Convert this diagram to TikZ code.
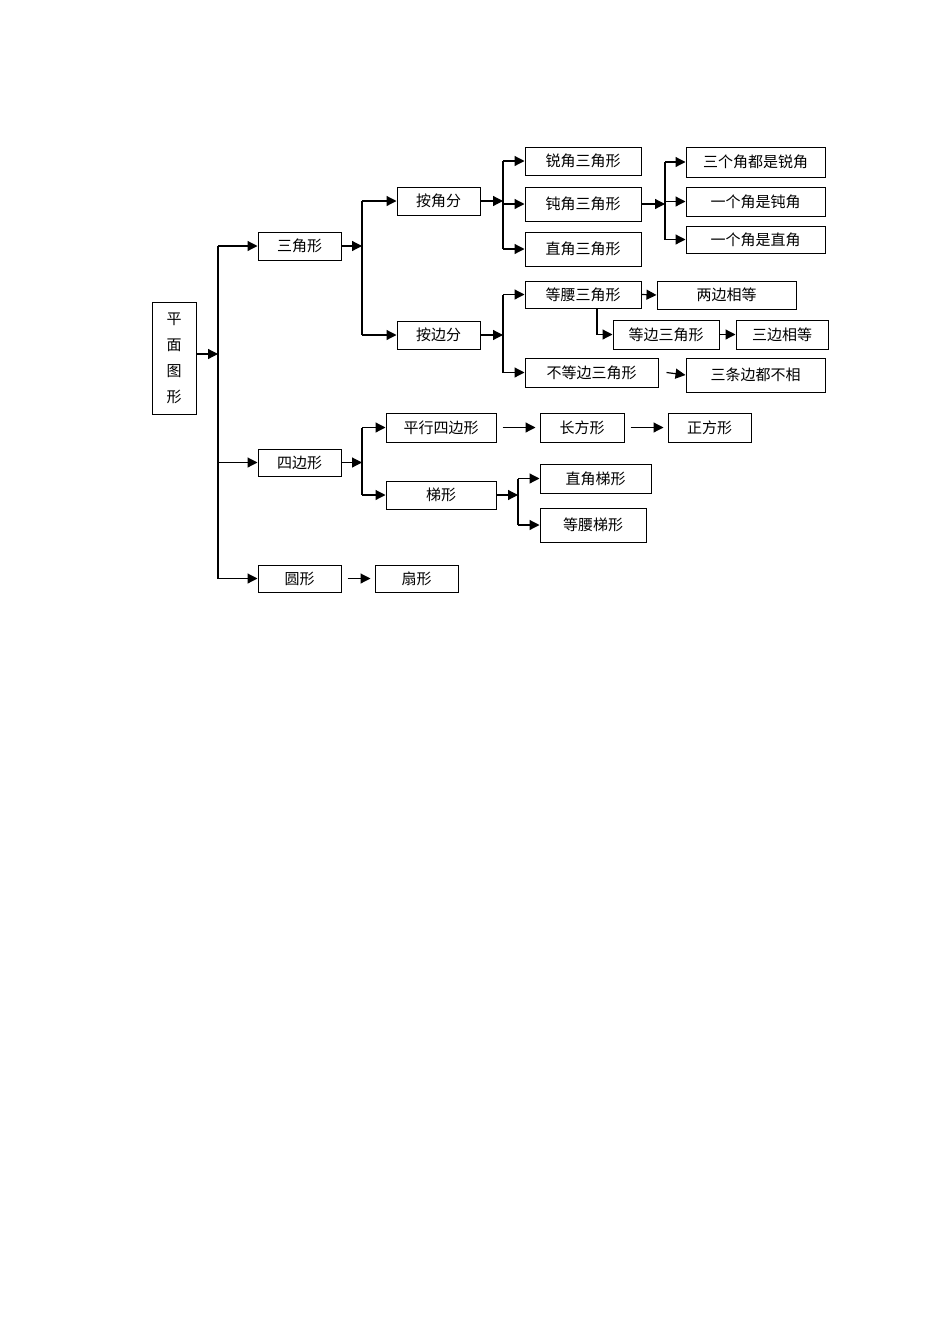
\documentclass[tikz,border=0pt]{standalone}
\usepackage{fontspec}
\newfontfamily\cjk{Noto Sans CJK SC}
\usetikzlibrary{arrows.meta}
\newcommand\bx[6]{\node[bx,minimum width={(#4-#2)*1pt},minimum height={(#5-#3)*1pt}] (#1) at ({(#2+#4)/2},{(#3+#5)/2}) {#6};}
\begin{document}
\begin{tikzpicture}[x=1pt,y=-1pt,
  bx/.style={draw,line width=1pt,inner sep=0pt,font=\cjk\fontsize{15}{17}\selectfont},
  ln/.style={line width=1.2pt},
  arr/.style={line width=1.2pt,-{Triangle[length=10pt,width=10pt]}}]
\useasboundingbox (0,0) rectangle (950,1344);
\fill[white] (0,0) rectangle (950,1344);
\node[draw,line width=1pt,minimum width=44pt,minimum height=112pt,inner sep=0pt,align=center,font=\cjk\fontsize{15}{26}\selectfont] (pm) at (174,358) {平\\面\\图\\形};
\bx{sj}{258}{232}{341}{260}{三角形}
\bx{sb}{258}{449}{341}{476}{四边形}
\bx{yx}{258}{565}{341}{592}{圆形}
\bx{sx}{375}{565}{458}{592}{扇形}
\bx{ajf}{397}{187}{480}{215}{按角分}
\bx{abf}{397}{321}{480}{349}{按边分}
\bx{rj}{525}{147}{641}{175}{锐角三角形}
\bx{dj}{525}{187}{641}{221}{钝角三角形}
\bx{zj}{525}{232}{641}{266}{直角三角形}
\bx{r1}{686}{147}{825}{177}{三个角都是锐角}
\bx{r2}{686}{187}{825}{216}{一个角是钝角}
\bx{r3}{686}{226}{825}{253}{一个角是直角}
\bx{dy}{525}{281}{641}{308}{等腰三角形}
\bx{lb}{657}{281}{796}{309}{两边相等}
\bx{db}{613}{320}{719}{349}{等边三角形}
\bx{sbx}{736}{320}{828}{349}{三边相等}
\bx{bd}{525}{358}{658}{387}{不等边三角形}
\bx{st}{686}{358}{825}{392}{三条边都不相}
\bx{px}{386}{413}{496}{442}{平行四边形}
\bx{cf}{540}{413}{624}{442}{长方形}
\bx{zf}{668}{413}{751}{442}{正方形}
\bx{tx}{386}{481}{496}{509}{梯形}
\bx{zt}{540}{464}{651}{493}{直角梯形}
\bx{dt}{540}{508}{646}{542}{等腰梯形}
\coordinate (b1) at (218,0);
\coordinate (b2) at (362,0);
\coordinate (b3) at (503,0);
\coordinate (b4) at (665,0);
\coordinate (b5) at (518,0);
\coordinate (b6) at (597,0);
% level 1
\draw[arr] (pm.east |- 0,354) -- (b1 |- 0,354);
\draw[ln] (b1 |- sj.west) -- (b1 |- yx.west);
\foreach \t in {sj,sb,yx} \draw[arr] (b1 |- \t.west) -- (\t.west);
% triangle
\draw[arr] (sj.east) -- (sj.east -| b2);
\draw[ln] (b2 |- ajf.west) -- (b2 |- abf.west);
\foreach \t in {ajf,abf} \draw[arr] (b2 |- \t.west) -- (\t.west);
\draw[arr] (ajf.east) -- (ajf.east -| b3);
\draw[ln] (b3 |- rj.west) -- (b3 |- zj.west);
\foreach \t in {rj,dj,zj} \draw[arr] (b3 |- \t.west) -- (\t.west);
\draw[arr] (dj.east) -- (dj.east -| b4);
\draw[ln] (b4 |- r1.west) -- (b4 |- r3.west);
\foreach \t in {r1,r2,r3} \draw[arr] (b4 |- \t.west) -- (\t.west);
\draw[arr] (abf.east) -- (abf.east -| b3);
\draw[ln] (b3 |- dy.west) -- (b3 |- bd.west);
\foreach \t in {dy,bd} \draw[arr] (b3 |- \t.west) -- (\t.west);
\draw[arr] (dy.east) -- (lb.west);
\draw[arr] (dy.south -| b6) |- (db.west);
\draw[arr] (db.east) -- (sbx.west);
\draw[arr] ([xshift=8pt]bd.east) -- (st.west);
% quadrilateral
\draw[arr] (sb.east) -- (sb.east -| b2);
\draw[ln] (b2 |- px.west) -- (b2 |- tx.west);
\foreach \t in {px,tx} \draw[arr] (b2 |- \t.west) -- (\t.west);
\draw[arr] ([xshift=6pt]px.east) -- ([xshift=-4pt]cf.west);
\draw[arr] ([xshift=6pt]cf.east) -- ([xshift=-4pt]zf.west);
\draw[arr] (tx.east) -- (tx.east -| b5);
\draw[ln] (b5 |- zt.west) -- (b5 |- dt.west);
\foreach \t in {zt,dt} \draw[arr] (b5 |- \t.west) -- (\t.west);
% circle
\draw[arr] ([xshift=6pt]yx.east) -- ([xshift=-4pt]sx.west);
\end{tikzpicture}
\end{document}
